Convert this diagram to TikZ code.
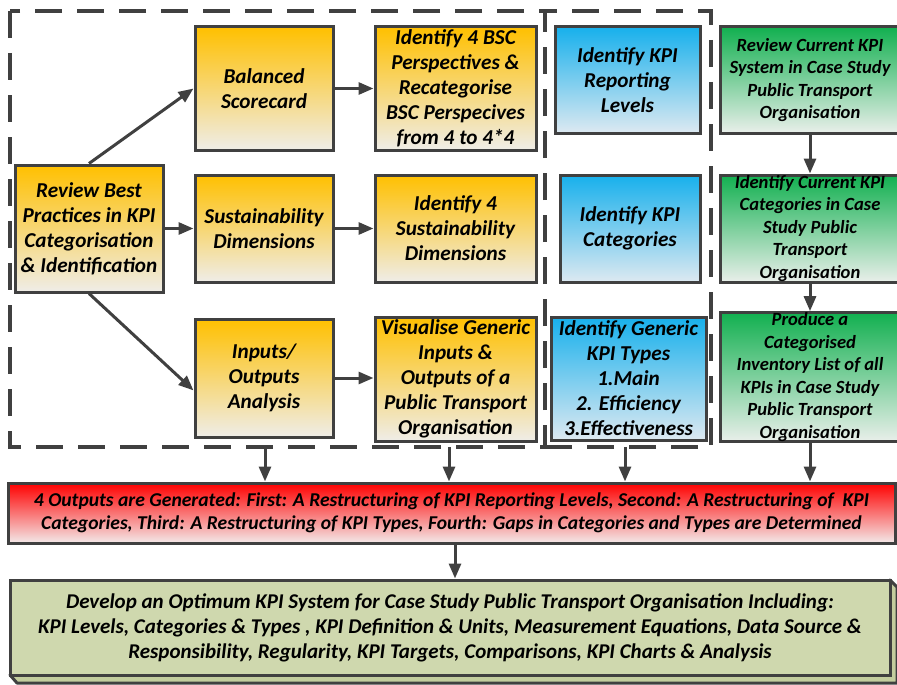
\documentclass[tikz,border=0pt]{standalone}
\usepackage{fontspec}
\setmainfont{Carlito}
\usetikzlibrary{arrows.meta,shadows}

\definecolor{edge}{HTML}{404040}
\definecolor{amberTop}{HTML}{FFC000}
\definecolor{amberBot}{HTML}{EFEDE8}
\definecolor{skyTop}{HTML}{17B0EC}
\definecolor{skyBot}{HTML}{DDE9F1}
\definecolor{leafTop}{HTML}{12B050}
\definecolor{leafBot}{HTML}{E9EFEA}
\definecolor{alarmTop}{HTML}{FF0000}
\definecolor{alarmBot}{HTML}{F3E9E9}
\definecolor{olive}{HTML}{CFD8AE}
\definecolor{oliveSide}{HTML}{C3CD9E}

\tikzset{
  card/.style={draw=edge, line width=3pt, inner sep=0pt, align=center,
    font=\bfseries\itshape\fontsize{21.2}{25}\selectfont,
    drop shadow={shadow xshift=2pt, shadow yshift=-2pt, opacity=0.3, fill=gray}},
  amber/.style={card, top color=amberTop, bottom color=amberBot},
  sky/.style={card, top color=skyTop, bottom color=skyBot},
  leaf/.style={card, top color=leafTop, bottom color=leafBot,
    font=\bfseries\itshape\fontsize{18.6}{22.5}\selectfont},
  alarm/.style={card, top color=alarmTop, bottom color=alarmBot,
    font=\bfseries\itshape\fontsize{19.6}{23}\selectfont},
  final/.style={card, fill=olive, drop shadow={opacity=0},
    font=\bfseries\itshape\fontsize{21}{25}\selectfont},
  link/.style={draw=edge, line width=3pt, -{Triangle[length=15pt,width=12pt]}},
  frame/.style={draw=edge, line width=4pt, dash pattern=on 27pt off 15pt},
}

\begin{document}
\begin{tikzpicture}[x=1pt, y=1pt]
\useasboundingbox (0,0) rectangle (897,-685);

% dashed groupings (the right one shares the left one's edge)
\draw[frame] (10,-11) rectangle (545,-447);
\draw[frame, dash phase=15pt] (545,-11) -- (711,-11) -- (711,-447) -- (545,-447);

% review of best practice and its three branches
\node[amber, minimum width=148pt, minimum height=127pt] (rev) at (89,-228.5)
  {Review Best\\Practices in KPI\\Categorisation\\\& Identification};
\node[amber, minimum width=138pt, minimum height=123pt] (bsc) at (264,-88.5)
  {Balanced\\Scorecard};
\node[amber, minimum width=138pt, minimum height=107pt] (sus) at (264,-228.5)
  {Sustainability\\Dimensions};
\node[amber, minimum width=138pt, minimum height=118pt] (io) at (264,-378)
  {Inputs/\\Outputs\\Analysis};

\node[amber, minimum width=161pt, minimum height=123pt] (ibsc) at (455.5,-88.5)
  {Identify 4 BSC\\Perspectives \&\\Recategorise\\BSC Perspecives\\from 4 to 4*4};
\node[amber, minimum width=161pt, minimum height=107pt] (isus) at (455.5,-228.5)
  {Identify 4\\Sustainability\\Dimensions};
\node[amber, minimum width=161pt, minimum height=124pt] (vis) at (455.5,-379)
  {Visualise Generic\\Inputs \&\\Outputs of a\\Public Transport\\Organisation};

% KPI identification
\node[sky, minimum width=145pt, minimum height=106pt] (lvl) at (627.5,-80)
  {Identify KPI\\Reporting\\Levels};
\node[sky, minimum width=140pt, minimum height=107pt] (cat) at (630,-228.5)
  {Identify KPI\\Categories};
\node[sky, minimum width=155pt, minimum height=123pt] (typ) at (628.5,-378.5)
  {Identify Generic\\KPI Types\\1.Main\\2. Efficiency\\3.Effectiveness};

% case study chain
\node[leaf, minimum width=180pt, minimum height=106pt] (cur) at (810,-80)
  {Review Current KPI\\System in Case Study\\Public Transport\\Organisation};
\node[leaf, minimum width=180pt, minimum height=107pt] (ccat) at (810,-228.5)
  {Identify Current KPI\\Categories in Case\\Study Public\\Transport\\Organisation};
\node[leaf, minimum width=180pt, minimum height=128pt] (inv) at (810,-377)
  {Produce a\\Categorised\\Inventory List of all\\KPIs in Case Study\\Public Transport\\Organisation};

% outputs
\node[alarm, minimum width=887pt, minimum height=60pt] (out) at (451.5,-513)
  {4 Outputs are Generated: First: A Restructuring of KPI Reporting Levels, Second: A Restructuring of~ KPI\\
   Categories, Third: A Restructuring of KPI Types, Fourth: Gaps in Categories and Types are Determined};

% final block with its depth faces
\filldraw[fill=oliveSide, draw=edge, line width=3pt, line join=round]
  (890,-580) -- (897,-587) -- (897,-683) -- (17,-683) -- (10,-675) -- (890,-675) -- cycle;
\node[final, minimum width=880pt, minimum height=95pt] (sys) at (450,-627.5)
  {Develop an Optimum KPI System for Case Study Public Transport Organisation Including:\\
   KPI Levels, Categories \& Types , KPI Definition \& Units, Measurement Equations, Data Source \&\\
   Responsibility, Regularity, KPI Targets, Comparisons, KPI Charts \& Analysis};

% exits of the dashed groupings
\coordinate (g1) at (265,-447);
\coordinate (g2) at (449,-447);
\coordinate (g3) at (625,-447);
\coordinate (o1) at (455,-543);

% connectors
\draw[link] (rev.north) -- (bsc.west);
\draw[link] (rev.east) -- (sus.west);
\draw[link] (rev.south) -- (io.190);
\draw[link] (bsc.east) -- (ibsc.west);
\draw[link] (sus.east) -- (isus.west);
\draw[link] (io.east) -- (io.east -| vis.west);
\draw[link] (cur.south) -- (ccat.north);
\draw[link] (ccat.south) -- (inv.north);
\draw[link] (inv.south) -- (inv.south |- out.north);
\draw[link] (g1) -- (g1 |- out.north);
\draw[link] (g2) -- (g2 |- out.north);
\draw[link] (g3) -- (g3 |- out.north);
\draw[link] (o1) -- (o1 |- sys.north);
\end{tikzpicture}
\end{document}
